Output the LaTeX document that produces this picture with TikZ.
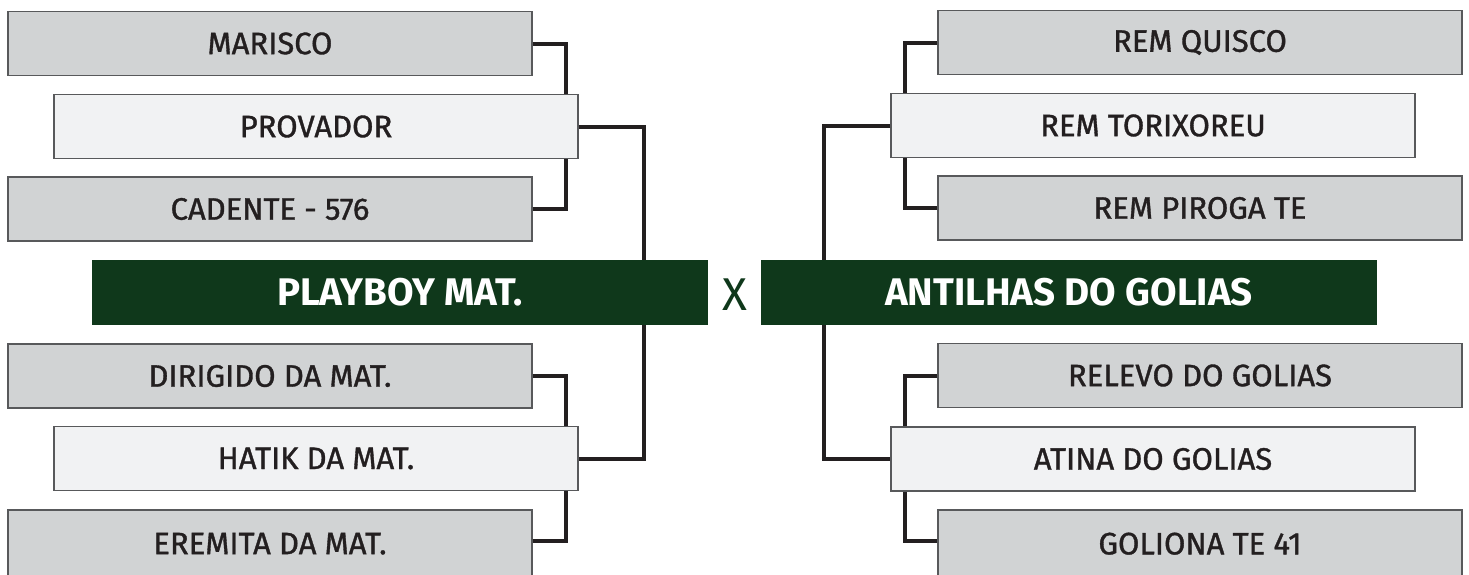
\documentclass[tikz,border=0pt]{standalone}
\usepackage{fontspec}
\setmainfont{Fira Sans}
\newfontfamily\medfont[FakeBold=1.1]{Fira Sans}
\definecolor{boxgray}{HTML}{D1D3D4}
\definecolor{boxlight}{HTML}{F1F2F3}
\definecolor{boxline}{HTML}{58595B}
\definecolor{teamgreen}{HTML}{0F381B}
\definecolor{ink}{HTML}{231F20}
\begin{document}
\begin{tikzpicture}[x=1pt,y=-1pt,
 base/.style={draw=boxline, line width=1.2pt, minimum width=524pt, minimum height=64pt, inner sep=0pt, text=ink, font=\medfont\fontsize{31}{31}\selectfont},
 sidebox/.style={base, fill=boxgray},
 mainbox/.style={base, fill=boxlight},
 team/.style={fill=teamgreen, minimum width=616pt, minimum height=65pt, inner sep=0pt, text=white, font=\bfseries\fontsize{38.5}{38.5}\selectfont},
 conn/.style={draw=ink, line width=4pt}]
\useasboundingbox[fill=white] (0,0) rectangle (1469,574);
% left side
\node[sidebox] (mar) at (270,43.5) {MARISCO};
\node[mainbox] (prov) at (316,126.5) {PROVADOR};
\node[sidebox] (cad) at (270,209) {CADENTE - 576};
\node[team] (pb) at (400,292.5) {PLAYBOY MAT.};
\node[sidebox] (dir) at (270,376) {DIRIGIDO DA MAT.};
\node[mainbox] (hat) at (316,458.5) {HATIK DA MAT.};
\node[sidebox, minimum height=70pt] (ere) at (270,545) {\raisebox{3pt}{EREMITA DA MAT.}};
% right side
\node[sidebox] (rq) at (1200,42.5) {REM QUISCO};
\node[mainbox] (rt) at (1153,125.5) {REM TORIXOREU};
\node[sidebox] (rp) at (1200,208) {REM PIROGA TE};
\node[team] (ag) at (1069,292.5) {ANTILHAS DO GOLIAS};
\node[sidebox] (rd) at (1200,375.5) {RELEVO DO GOLIAS};
\node[mainbox] (at) at (1153,459) {ATINA DO GOLIAS};
\node[sidebox, minimum height=70pt] (gt) at (1200,545) {\raisebox{3pt}{GOLIONA TE 41}};
\node[text=teamgreen, font=\fontsize{46}{46}\selectfont, inner sep=0pt] (vs) at (735,295) {X};
% left connectors
\draw[conn] (mar.east) -- ++(33,0) coordinate (c1) -- (c1 |- prov.north);
\draw[conn] (cad.east) -- ++(33,0) coordinate (c2) -- (c2 |- prov.south);
\draw[conn] (prov.east) -- ++(65,0) coordinate (c3) -- (c3 |- pb.north);
\draw[conn] (pb.south -| c3) -- (c3 |- hat.east) -- (hat.east);
\draw[conn] (dir.east) -- ++(33,0) coordinate (c4) -- (c4 |- hat.north);
\draw[conn] (ere.east |- 0,541) -- ++(33,0) coordinate (c5) -- (c5 |- hat.south);
% right connectors
\draw[conn] (rq.west) -- ++(-32,0) coordinate (d1) -- (d1 |- rt.north);
\draw[conn] (rp.west) -- ++(-32,0) coordinate (d2) -- (d2 |- rt.south);
\draw[conn] (rt.west) -- ++(-66,0) coordinate (d3) -- (d3 |- ag.north);
\draw[conn] (ag.south -| d3) -- (d3 |- at.west) -- (at.west);
\draw[conn] (rd.west) -- ++(-32,0) coordinate (d4) -- (d4 |- at.north);
\draw[conn] (gt.west |- 0,541) -- ++(-32,0) coordinate (d5) -- (d5 |- at.south);
\end{tikzpicture}
\end{document}
